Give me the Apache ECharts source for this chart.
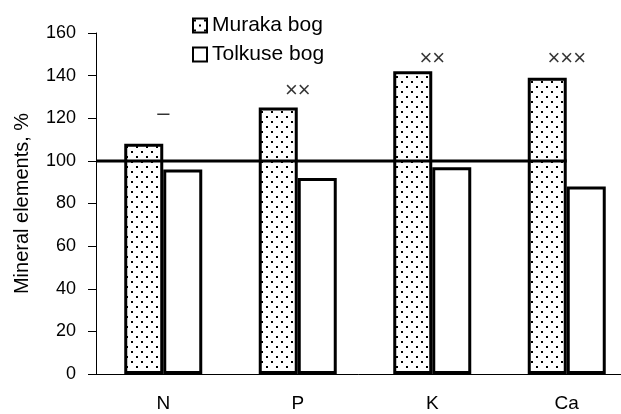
<!DOCTYPE html>
<html>
<head>
<meta charset="utf-8">
<script src="https://cdn.jsdelivr.net/npm/echarts@6/dist/echarts.min.js"></script>
<style>
html, body { margin: 0; padding: 0; background: #fff; }
#chart { width: 621px; height: 414px; }
</style>
</head>
<body>
<div id="chart"></div>
<script>
var categories = ['N', 'P', 'K', 'Ca'];
var muraka = [108, 125, 142, 139];
var tolkuse = [96, 92, 97, 88];
// reference line at 100 %, from the y axis to the middle of the last group
var refLine = [[0, 100], [3.5, 100]];
// significance marks above each group
var markText = ['–', '××', '××', '×××'];
var markPos = [[0.5, 122], [1.5, 133], [2.5, 148], [3.5, 148]];

// dotted fill for Muraka bog
var tile = document.createElement('canvas');
tile.width = 10;
tile.height = 10;
var ctx = tile.getContext('2d');
ctx.fillStyle = '#fff';
ctx.fillRect(0, 0, 10, 10);
ctx.fillStyle = '#000';
ctx.fillRect(1, 1, 2, 2);
ctx.fillRect(6, 6, 2, 2);
var dots = { image: tile, repeat: 'repeat' };

var font = 'Liberation Sans';
var myChart = echarts.init(document.getElementById('chart'));
var option = {
    animation: false,
    textStyle: { fontFamily: font, color: '#000' },
    legend: {
        orient: 'vertical',
        left: 187,
        top: 10,
        icon: 'rect',
        itemWidth: 14,
        itemHeight: 14,
        itemGap: 8,
        textStyle: { fontFamily: font, fontSize: 21, color: '#000' },
        data: ['Muraka bog', 'Tolkuse bog']
    },
    // the last category runs past the right edge of the picture
    grid: { left: 96, top: 33, bottom: 40, right: -13, outerBoundsMode: 'none', containLabel: false },
    xAxis: [
        {
            type: 'category',
            data: categories,
            axisLine: { lineStyle: { color: '#000', width: 1 } },
            axisTick: { length: 5, lineStyle: { color: '#000' } },
            axisLabel: { fontSize: 19, color: '#000', margin: 20 }
        },
        { type: 'value', min: 0, max: 4, show: false }
    ],
    yAxis: {
        type: 'value',
        min: 0,
        max: 160,
        interval: 20,
        name: 'Mineral elements, %',
        nameLocation: 'middle',
        nameGap: 64,
        nameTextStyle: { fontSize: 20, color: '#000' },
        axisLine: { show: true, lineStyle: { color: '#000', width: 1 } },
        axisTick: { show: true, length: 8, lineStyle: { color: '#000' } },
        axisLabel: { fontSize: 18, color: '#000', margin: 20 },
        splitLine: { show: false }
    },
    series: [
        {
            name: 'Muraka bog',
            type: 'bar',
            data: muraka,
            barWidth: 39,
            barGap: 0,
            itemStyle: { color: dots, borderColor: '#000', borderWidth: 3 }
        },
        {
            name: 'Tolkuse bog',
            type: 'bar',
            data: tolkuse,
            barWidth: 39,
            itemStyle: { color: '#fff', borderColor: '#000', borderWidth: 3 }
        },
        {
            type: 'line',
            xAxisIndex: 1,
            data: refLine,
            symbol: 'none',
            z: 5,
            lineStyle: { color: '#000', width: 3 }
        },
        {
            type: 'scatter',
            xAxisIndex: 1,
            symbolSize: 0,
            data: markPos,
            label: {
                show: true,
                position: 'inside',
                fontSize: 22,
                color: '#000',
                formatter: function (p) { return markText[p.dataIndex]; }
            }
        }
    ]
};
myChart.setOption(option);
</script>
</body>
</html>
